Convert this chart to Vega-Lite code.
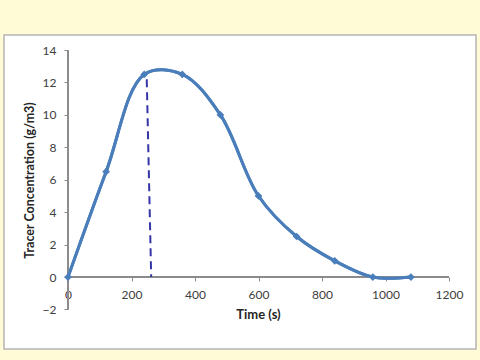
{
  "$schema": "https://vega.github.io/schema/vega-lite/v6.json",
  "width": 472,
  "height": 314,
  "autosize": {"type": "none"},
  "padding": {"left": 4, "top": 35, "right": 4, "bottom": 11},
  "background": "#FEFBD6",
  "config": {
    "view": {"fill": "white", "stroke": "#B5B5B5", "strokeWidth": 1.5},
    "font": "Lato",
    "axis": {"labelOverlap": false, "labelFlush": false}
  },
  "resolve": {"axis": {"x": "independent", "y": "independent"}},
  "datasets": {
    "curve": [
      {"t": 0, "c": 0},
      {"t": 120, "c": 6.5},
      {"t": 240, "c": 12.5},
      {"t": 360, "c": 12.5},
      {"t": 480, "c": 10},
      {"t": 600, "c": 5},
      {"t": 720, "c": 2.5},
      {"t": 840, "c": 1},
      {"t": 960, "c": 0},
      {"t": 1080, "c": 0}
    ],
    "dash": [
      {"t": 248, "c": 12.2},
      {"t": 262, "c": 0}
    ]
  },
  "layer": [
    {
      "data": {"name": "curve"},
      "mark": {"type": "line", "color": "#4A7EBB", "strokeWidth": 3, "interpolate": "catmull-rom"},
      "encoding": {
        "x": {
          "field": "t",
          "type": "quantitative",
          "scale": {"domain": [-201.6, 1285], "nice": false, "zero": false},
          "axis": {
            "values": [0, 200, 400, 600, 800, 1000, 1200],
            "format": "d",
            "offset": -72,
            "domain": false,
            "grid": false,
            "tickSize": 4,
            "tickColor": "#8C8C8C",
            "labelPadding": 8,
            "labelFontSize": 12,
            "labelColor": "#404040",
            "title": "Time (s)",
            "titleFontSize": 13,
            "titleFontWeight": "bold",
            "titleColor": "#262626",
            "titleX": 254,
            "titlePadding": 8
          }
        },
        "y": {
          "field": "c",
          "type": "quantitative",
          "scale": {"domain": [-4.44, 14.93], "nice": false, "zero": false},
          "axis": {
            "values": [-2, 0, 2, 4, 6, 8, 10, 12, 14],
            "format": "d",
            "offset": -64,
            "domain": false,
            "grid": false,
            "tickSize": 4,
            "tickColor": "#8C8C8C",
            "labelPadding": 8,
            "labelFontSize": 12,
            "labelColor": "#404040",
            "title": "Tracer Concentration (g/m3)",
            "titleFontSize": 12.5,
            "titleFontWeight": "bold",
            "titleColor": "#262626",
            "titleY": 145,
            "titlePadding": 6
          }
        }
      }
    },
    {
      "data": {"name": "curve"},
      "mark": {"type": "rule", "color": "#8C8C8C", "strokeWidth": 1},
      "encoding": {
        "x": {"datum": 0, "type": "quantitative", "axis": null},
        "y": {"datum": -2, "type": "quantitative", "axis": null},
        "y2": {"datum": 14}
      }
    },
    {
      "data": {"name": "curve"},
      "mark": {"type": "rule", "color": "#8C8C8C", "strokeWidth": 1},
      "encoding": {
        "y": {"datum": 0, "type": "quantitative", "axis": null},
        "x": {"datum": 0, "type": "quantitative", "axis": null},
        "x2": {"datum": 1200}
      }
    },
    {
      "data": {"name": "dash"},
      "mark": {"type": "line", "color": "#3535A8", "strokeWidth": 2, "strokeDash": [8, 5]},
      "encoding": {
        "x": {"field": "t", "type": "quantitative", "axis": null},
        "y": {"field": "c", "type": "quantitative", "axis": null}
      }
    },
    {
      "data": {"name": "curve"},
      "mark": {"type": "line", "color": "#4A7EBB", "strokeWidth": 3, "interpolate": "catmull-rom"},
      "encoding": {
        "x": {"field": "t", "type": "quantitative", "axis": null},
        "y": {"field": "c", "type": "quantitative", "axis": null}
      }
    },
    {
      "data": {"name": "curve"},
      "mark": {"type": "point", "shape": "diamond", "filled": true, "size": 60, "color": "#4A7EBB", "opacity": 1},
      "encoding": {
        "x": {"field": "t", "type": "quantitative", "axis": null},
        "y": {"field": "c", "type": "quantitative", "axis": null}
      }
    }
  ]
}
